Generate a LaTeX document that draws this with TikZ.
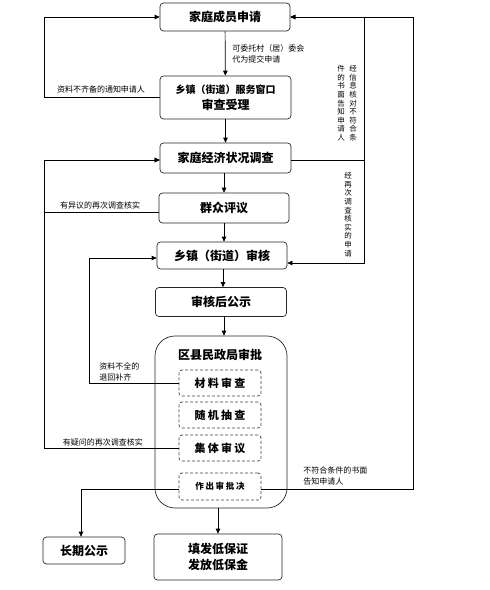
\documentclass[tikz,border=0pt]{standalone}
\usepackage{fontspec}
\newfontfamily\cjk{Noto Sans CJK SC}
\newfontfamily\cjkwide{Noto Sans CJK SC}[LetterSpace=20]
\usetikzlibrary{arrows.meta}
\newcommand\vcol[1]{\parbox[t]{8pt}{\centering\fontsize{7.5}{8.6}\selectfont #1}}

\begin{document}
\begin{tikzpicture}[x=1pt,y=-1pt,>={Triangle[length=5pt,width=4.5pt]},line width=0.7pt,font=\cjk,
  box/.style={draw=black!85,rounded corners=3.5pt,align=center,inner sep=0pt,font=\cjk\bfseries\fontsize{12}{16}\selectfont},
  subbox/.style={draw=black!75,dash pattern=on 3pt off 2pt,rounded corners=3pt,minimum width=82pt,minimum height=26pt,inner sep=0pt,font=\cjkwide\bfseries\fontsize{11}{13}\selectfont},
  note/.style={inner sep=0pt,align=left,font=\cjk\fontsize{8}{11}\selectfont},
  vnote/.style={inner sep=0pt,font=\cjk\fontsize{7.5}{8.6}\selectfont}]
\useasboundingbox (0,0) rectangle (490,590);

% main column
\node[box,minimum width=130pt,minimum height=28pt] (apply) at (225,17) {家庭成员申请};
\node[box,minimum width=131pt,minimum height=43pt] (window) at (225.5,97.5) {{\fontsize{10}{13}\selectfont 乡镇（街道）服务窗口}\\审查受理};
\node[box,minimum width=131pt,minimum height=30pt] (survey) at (225.5,158) {家庭经济状况调查};
\node[box,minimum width=130pt,minimum height=30pt] (review) at (224,208) {群众评议};
\node[box,minimum width=130pt,minimum height=27pt] (town) at (222,255.5) {乡镇（街道）审核};
\node[box,minimum width=131pt,minimum height=29pt] (notice) at (221,302) {审核后公示};

% county bureau
\node[box,rounded corners=20pt,minimum width=132pt,minimum height=172pt] (bureau) at (221,422) {};
\node[font=\cjk\bfseries\fontsize{12}{14}\selectfont,inner sep=0pt] (bureautitle) at (220,355) {区县民政局审批};
\node[subbox] (check) at (220,383) {材料审查};
\node[subbox] (spot) at (220,415) {随机抽查};
\node[subbox] (collect) at (220,448) {集体审议};
\node[subbox,minimum height=27pt,font=\cjkwide\bfseries\fontsize{8.5}{10}\selectfont] (decide) at (220,486.5) {作出审批决};

% results
\node[box,minimum width=128pt,minimum height=46pt] (issue) at (218,557) {填发低保证\\发放低保金};
\node[box,minimum width=82pt,minimum height=27pt] (longterm) at (84,550.5) {长期公示};

% rails
\coordinate (railL) at (44,0);
\coordinate (railC) at (89,0);
\coordinate (railM) at (364,0);
\coordinate (railR) at (413,0);

% downward flow
\draw[->] (apply) -- (window);
\draw[->] (window) -- (survey);
\draw[->] (review.north |- survey.south) -- (review.north);
\draw[->] (review.south) -- (review.south |- town.north);
\draw[->] ([xshift=1pt]town.south) -- ([xshift=1pt]town.south |- notice.north);
\draw[->] ([xshift=3pt]notice.south) -- ([xshift=3pt]notice.south |- bureau.north);
\draw[->] (bureau.south -| issue) -- (issue.north);
\draw[->] ([yshift=-2.5pt]decide.west) -| ([xshift=-3pt]longterm.north);

% left loops
\draw[->] (window.west) -- (window.west -| railL) |- (apply.west);
\draw[->] ([yshift=-4pt]review.west) -- ([yshift=-4pt]review.west -| railL) |- ([yshift=-2pt]survey.west);
\draw[->] (collect.west) -- (collect.west -| railL) |- ([yshift=-2pt]survey.west);
\draw[->] (check.west) -- (check.west -| railC) |- ([yshift=-2.5pt]town.west);

% right loops
\draw[->] ([yshift=-2pt]survey.east) -- ([yshift=-2pt]survey.east -| railM) |- (apply.east);
\draw[->] ([yshift=-2pt]survey.east -| railM) |- ([yshift=-7.5pt]town.east);
\draw[->] ([yshift=-2.5pt]decide.east) -- ([yshift=-2.5pt]decide.east -| railR) |- (apply.east);

% labels
\node[note,anchor=west] (proxynote) at (232,53.5) {可委托村（居）委会\\代为提交申请};
\node[note] (lacknote) at (101,89) {资料不齐备的通知申请人};
\node[note] (objectnote) at (100,205) {有异议的再次调查核实};
\node[note,anchor=west] (returnnote) at (99,372) {资料不全的\\退回补齐};
\node[note] (doubtnote) at (103,442) {有疑问的再次调查核实};
\node[note,anchor=west] (rejectnote) at (303,476) {不符合条件的书面\\告知申请人};
\node[vnote,anchor=north] (checknote) at (347,65) {\vcol{件\\的\\书\\面\\告\\知\\申\\请\\人}\hspace{4pt}\vcol{经\\信\\息\\核\\对\\不\\符\\合\\条}};
\node[vnote,anchor=north] (againnote) at (348,172) {\vcol{经\\再\\次\\调\\查\\核\\实\\的\\申\\请}};
\end{tikzpicture}
\end{document}
